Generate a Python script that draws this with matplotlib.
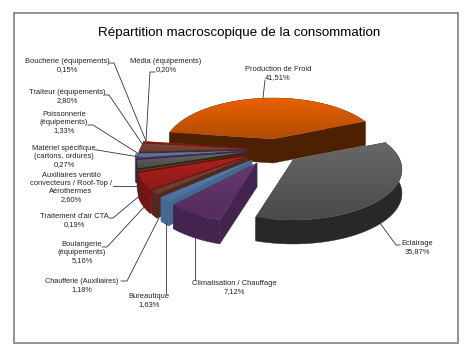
import numpy as np
import matplotlib
matplotlib.use('Agg')
import matplotlib.pyplot as plt
from matplotlib.patches import Polygon, Rectangle

plt.rcParams['font.family'] = ['Liberation Sans', 'DejaVu Sans']

# clockwise from Production de Froid
names = ['Production de Froid', 'Eclairage', 'Climatisation / Chauffage', 'Bureautique',
         'Chaufferie (Auxiliaires)', 'Boulangerie (équipements)', "Traitement d'air CTA",
         'Auxiliaires ventilo convecteurs', 'Matériel spécifique', 'Poissonnerie (équipements)',
         'Traiteur (équipements)', 'Boucherie (équipements)', 'Média (équipements)']
values = [41.51, 35.87, 7.12, 1.63, 1.18, 5.16, 0.19, 2.60, 0.27, 1.33, 2.80, 0.15, 0.20]

# exploded position of each slice tip, in pixels
tips = [(273, 139), (293, 160), (257, 163), (252, 160), (248, 157), (246, 156), (246, 154),
        (246, 152), (245, 151), (244, 151), (247, 149), (247, 148), (247, 148)]

# top colour, lower colour, wall colour
orange = ('#ea6100', '#b04c04', '#4c2000')
grey = ('#686868', '#4a4a4a', '#282828')
purple = ('#683a70', '#522c5c', '#42244e')
blue = ('#5b82ae', '#4a6f98', '#44688f')
brown = ('#84483a', '#6a3a2e', '#52291f')
red = ('#ae2020', '#8e1a1a', '#741414')
colors = [orange, grey, purple, blue, brown, red, orange, grey, purple, blue, brown, red, orange]

start_angle = 172
depth = 24
R, A, p = 107, 48.7, 0.188

# label text, centre x, first line y, leader polyline
labels = [
    ('Boucherie (équipements)\n0,15%', 67, 61, [(109, 63), (114, 63), (146, 141)], 5.4),
    ('Média (équipements)\n0,20%', 166, 61, [(155, 72), (150, 72), (146, 141)], 5.4),
    ('Traiteur (équipements)\n2,80%', 67, 92, [(105, 95), (109, 95), (143, 145)], 5.4),
    ('Poissonnerie\n(équipements)\n1,33%', 64, 114, [(88, 125), (93, 125), (139, 154)], 5.4),
    ('Matériel spécifique\n(cartons, ordures)\n0,27%', 64, 148, [(95, 150), (97, 150), (139, 157)], 5.4),
    ('Auxiliaires ventilo\nconvecteurs / Roof-Top /\nAérothermes\n2,60%', 71, 175, [(113, 186), (117, 186), (142, 186)], 5.4),
    ("Traitement d'air CTA\n0,19%", 74, 216, [(109, 218), (113, 218), (143, 193)], 5.4),
    ('Boulangerie\n(équipements)\n5,16%', 82, 244, [(102, 247), (107, 247), (146, 205)], 5.4),
    ('Chaufferie (Auxiliaires)\n1,18%', 82, 281, [(121, 281), (127, 281), (159, 218)], 5.2),
    ('Bureautique\n1,63%', 149, 296, [(166, 293), (166, 223)], 5.4),
    ('Climatisation / Chauffage\n7,12%', 234, 283, [(195, 280), (195, 238)], 5.4),
    ('Eclairage\n35,87%', 417, 243, [(400, 245), (396, 245), (380, 223)], 5.4),
    ('Production de Froid\n41,51%', 278, 69, [(265, 80), (263, 98)], 5.4),
]


def project(t):
    # points of the tilted disc, the near side comes out larger
    u, v = np.cos(t), -np.sin(t)
    den = 1 - p * v
    return R * u / den, A * v / den


fig = plt.figure(figsize=(4.7, 3.51), dpi=100)
ax = fig.add_axes([0, 0, 1, 1])
ax.set_xlim(0, 470)
ax.set_ylim(351, 0)
ax.axis('off')

ax.add_patch(Rectangle((14, 13), 444, 330, fill=False, ec='#8a8a8a', lw=1.3))

total = sum(values)
ends = start_angle - np.cumsum(values) / total * 360
starts = np.concatenate(([start_angle], ends[:-1]))

slices = []
for i in range(len(values)):
    a0, a1 = np.radians(ends[i]), np.radians(starts[i])
    n = max(3, int(abs(starts[i] - ends[i]) * 1.5))
    x, y = project(np.linspace(a0, a1, n))
    x = x + tips[i][0]
    y = y + tips[i][1]
    slices.append((x, y))

# painter order: back slice, small left ones, then purple and black in front
order = [0, 12, 11, 10, 9, 8, 7, 6, 5, 4, 3, 2, 1]
zo = 2
for i in order:
    x, y = slices[i]
    tx, ty = tips[i]
    top, low, wall = colors[i]
    # cut walls
    for ex, ey in [(x[0], y[0]), (x[-1], y[-1])]:
        ax.add_patch(Polygon([(tx, ty), (ex, ey), (ex, ey + depth), (tx, ty + depth)],
                             fc=wall, ec=wall, lw=0.3, zorder=zo))
    # outer wall
    ax.add_patch(Polygon(np.column_stack([np.r_[x, x[::-1]], np.r_[y, y[::-1] + depth]]),
                         fc=wall, ec=wall, lw=0.3, zorder=zo + 0.1))
    # top face with vertical gradient
    poly = Polygon(np.column_stack([np.r_[tx, x], np.r_[ty, y]]), fc='none', ec='none', zorder=zo + 0.2)
    ax.add_patch(poly)
    c0 = np.array(matplotlib.colors.to_rgb(top))
    c1 = np.array(matplotlib.colors.to_rgb(low))
    g = np.linspace(0, 1, 64)[:, None, None]
    img = c0[None, None, :] * (1 - g) + c1[None, None, :] * g
    ymin, ymax = min(y.min(), ty), max(y.max(), ty)
    xmin, xmax = min(x.min(), tx), max(x.max(), tx)
    im = ax.imshow(img, extent=(xmin, xmax, ymax, ymin), aspect='auto', zorder=zo + 0.2,
                   interpolation='bilinear')
    im.set_clip_path(poly)
    zo += 1

ax.set_xlim(0, 470)
ax.set_ylim(351, 0)

for text, cx, y0, line, size in labels:
    ax.text(cx, y0 - 3, text, ha='center', va='top', fontsize=size, color='#222222',
            linespacing=1.2, zorder=50)
    px, py = zip(*line)
    ax.plot(px, py, color='#333333', lw=0.6, zorder=40)

ax.text(239.5, 33, 'Répartition macroscopique de la consommation', ha='center', va='center',
        fontsize=9.6, color='black', zorder=50)

fig.savefig('out.png', dpi=100)
